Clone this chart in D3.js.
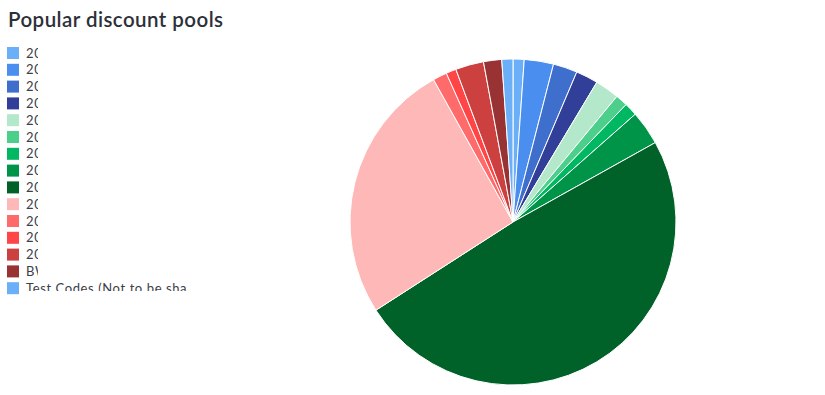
<!DOCTYPE html>
<html><head><meta charset="utf-8">
<script src="https://cdn.jsdelivr.net/npm/d3@7/dist/d3.min.js"></script>
<style>body{margin:0;background:#fff;} svg{display:block;}</style>
</head><body>
<svg id="chart" width="825" height="395"></svg>
<script>
const categories = [
  "2019 Spring promotion", "2019 Summer promotion", "2019 Autumn promotion", "2019 Winter promotion",
  "2020 Spring promotion", "2020 Summer promotion", "2020 Autumn promotion", "2020 Winter promotion",
  "2021 Partner discounts", "2021 Newsletter codes", "2022 Spring promotion", "2022 Summer promotion",
  "2022 Autumn promotion", "BW Black Week", "Test Codes (Not to be shared)"
];
const values = [11, 29, 24, 22, 24, 12, 13, 34, 490, 260, 14, 10, 28, 18, 11];
const colors = ["#6aaff8","#4a8ff0","#3e6fcc","#323f99","#b3e8cb","#4ccf8a","#00b862","#009448",
  "#006129","#ffb8b8","#ff6b6b","#ff4545","#cc4040","#993333","#6aaff8"];
const title = "Popular discount pools";

const svg = d3.select("#chart");
svg.append("text").attr("x", 8).attr("y", 27)
  .attr("font-family", "Lato, 'Open Sans', sans-serif").attr("font-size", 20.5).attr("font-weight", 600)
  .attr("letter-spacing", 0.45)
  .attr("fill", "#2d3039").text(title);

// Legend
const defs = svg.append("defs");
defs.append("clipPath").attr("id", "clipShort").append("rect").attr("x", 0).attr("y", 0).attr("width", 38).attr("height", 395);
defs.append("clipPath").attr("id", "clipLast").append("rect").attr("x", 0).attr("y", 0).attr("width", 825).attr("height", 291);
const ly = d3.scaleBand().domain(d3.range(categories.length)).range([44.5, 44.5 + 16.8 * categories.length]);
const leg = svg.append("g");
categories.forEach((c, i) => {
  const y = ly(i);
  const last = i === categories.length - 1;
  leg.append("rect").attr("x", 7).attr("y", y + 2.5).attr("width", 12).attr("height", 12).attr("fill", colors[i]);
  leg.append("text").attr("x", 26).attr("y", y + 13)
    .attr("font-family", "Lato, 'Open Sans', sans-serif").attr("font-size", 13)
    .attr("letter-spacing", 0.6)
    .attr("fill", "#3c4049")
    .attr("clip-path", last ? "url(#clipLast)" : "url(#clipShort)")
    .text(last ? "Test Codes (Not to be sha..." : c);
});

// Pie
const cx = 513, cy = 222, r = 163;
const pie = d3.pie().sort(null).value(d => d)(values);
const arc = d3.arc().innerRadius(0).outerRadius(r);
svg.append("g").attr("transform", `translate(${cx},${cy})`)
  .selectAll("path").data(pie).join("path")
  .attr("d", arc).attr("fill", (d, i) => colors[i])
  .attr("stroke", "#fff").attr("stroke-width", 1);
</script>
</body></html>
